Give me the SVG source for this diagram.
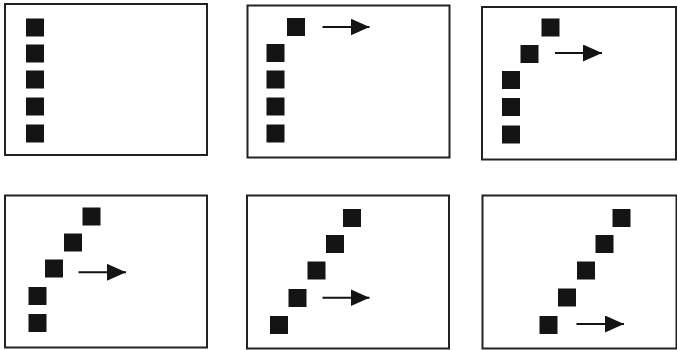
<svg xmlns="http://www.w3.org/2000/svg" width="677" height="350" viewBox="0 0 677 350">
<style>
.frame{fill:#fff;stroke:#222;stroke-width:2}
.sq{fill:#141414}
.arr{stroke:#141414;stroke-width:2;fill:none;marker-end:url(#ah)}
</style>
<defs>
<marker id="ah" viewBox="0 0 19 17" refX="19" refY="8.5" markerWidth="19" markerHeight="17" markerUnits="userSpaceOnUse" orient="auto">
<path d="M0,0 L19,8.5 L0,17 Z" fill="#141414"/>
</marker>
</defs>
<rect width="677" height="350" fill="#fff"/>
<g id="panel1">
<rect class="frame" x="5" y="4" width="202" height="151"/>
<rect class="sq" x="26" y="18.5" width="18" height="18"/>
<rect class="sq" x="26" y="44.5" width="18" height="18"/>
<rect class="sq" x="26" y="70.5" width="18" height="18"/>
<rect class="sq" x="26" y="97.5" width="18" height="18"/>
<rect class="sq" x="26" y="124.5" width="18" height="18"/>
</g>
<g id="panel2">
<rect class="frame" x="247.5" y="5.5" width="202" height="152"/>
<rect class="sq" x="287" y="18" width="18" height="18"/>
<rect class="sq" x="266.5" y="44" width="18" height="18"/>
<rect class="sq" x="266.5" y="70.5" width="18" height="18"/>
<rect class="sq" x="266.5" y="97.5" width="18" height="18"/>
<rect class="sq" x="266.5" y="124.5" width="18" height="18"/>
</g>
<g id="panel3">
<rect class="frame" x="482" y="7" width="194" height="152.5"/>
<rect class="sq" x="541.5" y="18.5" width="18" height="18"/>
<rect class="sq" x="520.5" y="45" width="18" height="18"/>
<rect class="sq" x="502" y="71" width="18" height="18"/>
<rect class="sq" x="502" y="98" width="18" height="18"/>
<rect class="sq" x="502" y="125.5" width="18" height="18"/>
</g>
<g id="panel4">
<rect class="frame" x="5" y="195.5" width="202" height="152"/>
<rect class="sq" x="82.5" y="207.5" width="18" height="18"/>
<rect class="sq" x="64" y="233.5" width="18" height="18"/>
<rect class="sq" x="45" y="259.5" width="18" height="18"/>
<rect class="sq" x="28.5" y="287" width="18" height="18"/>
<rect class="sq" x="28.5" y="314" width="18" height="18"/>
</g>
<g id="panel5">
<rect class="frame" x="247" y="195.5" width="202" height="153"/>
<rect class="sq" x="343" y="209" width="18" height="18"/>
<rect class="sq" x="326" y="235" width="18" height="18"/>
<rect class="sq" x="307.5" y="261.5" width="18" height="18"/>
<rect class="sq" x="288.5" y="289" width="18" height="18"/>
<rect class="sq" x="270" y="316" width="18" height="18"/>
</g>
<g id="panel6">
<rect class="frame" x="482.5" y="195.5" width="194" height="153"/>
<rect class="sq" x="612.5" y="209" width="18" height="18"/>
<rect class="sq" x="595.5" y="235" width="18" height="18"/>
<rect class="sq" x="577" y="261.5" width="18" height="18"/>
<rect class="sq" x="558" y="288.5" width="18" height="18"/>
<rect class="sq" x="539.5" y="316" width="18" height="18"/>
</g>
<g id="connectors">
<line class="arr" x1="322.5" y1="27" x2="369.5" y2="27"/>
<line class="arr" x1="555" y1="53" x2="602" y2="53"/>
<line class="arr" x1="78.5" y1="272.3" x2="126" y2="272.3"/>
<line class="arr" x1="322.5" y1="297.7" x2="369.5" y2="297.7"/>
<line class="arr" x1="576.5" y1="324" x2="624" y2="324"/>
</g>
</svg>
